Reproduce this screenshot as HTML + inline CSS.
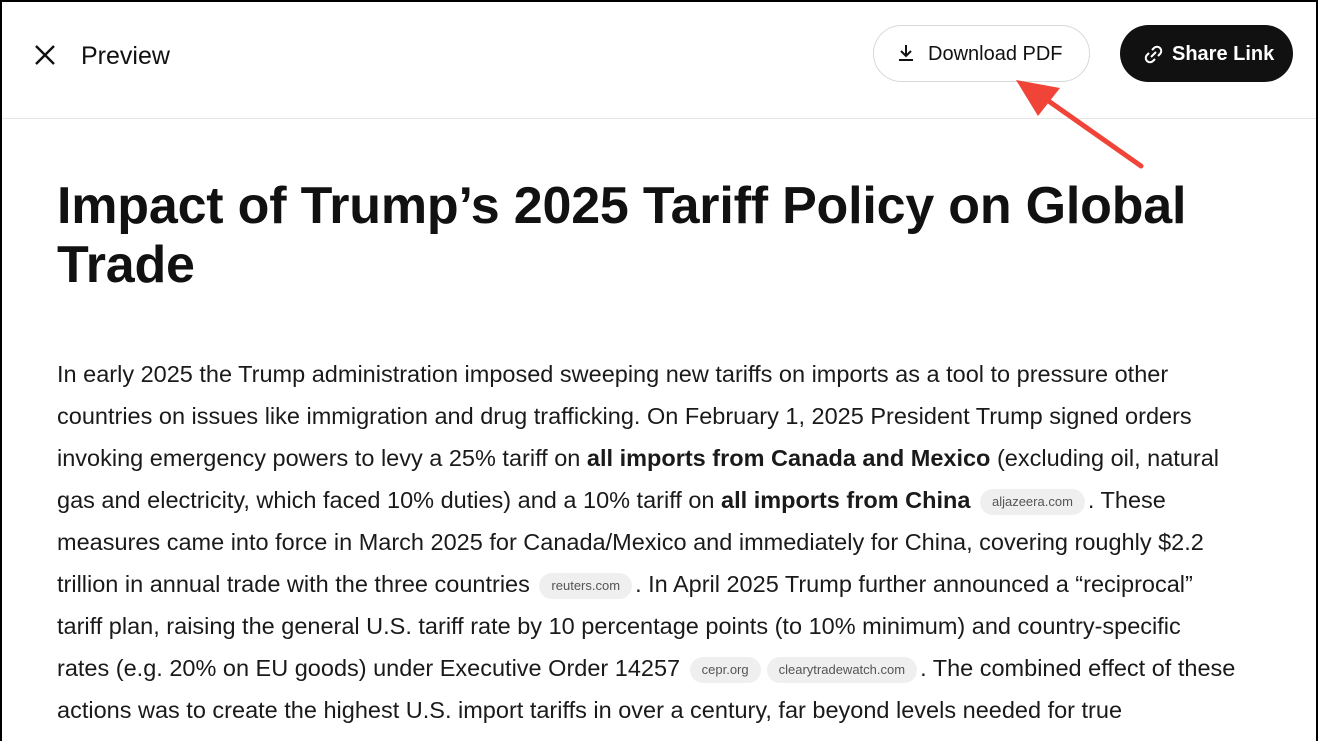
<!DOCTYPE html>
<html><head><meta charset="utf-8"><style>
*{margin:0;padding:0;box-sizing:border-box}
body{width:1318px;height:741px;overflow:hidden;background:#fff;font-family:"Liberation Sans",sans-serif;color:#111;position:relative}
.frame{position:absolute;left:0;top:0;width:1318px;height:741px;border:2px solid #000;border-bottom:none}
.hdr{position:absolute;left:2px;right:2px;top:118px;height:1px;background:#e5e5e5}
.t{position:absolute;left:57px;white-space:nowrap;font-size:23.5px;line-height:42px;color:#1a1a1a}
.h{position:absolute;left:57px;white-space:nowrap;font-size:52px;font-weight:bold;line-height:60px;letter-spacing:-0.2px}
.c{display:inline-block;background:#efefef;color:#555;font-size:13px;line-height:26px;height:26px;padding:0 12px;border-radius:13px;vertical-align:2px;margin:0 3px}
b{font-weight:bold}
</style></head><body>
<div class="frame"></div>
<svg style="position:absolute;left:34px;top:44px" width="22" height="22"><path d="M2 2L20 20M20 2L2 20" stroke="#111" stroke-width="2.4"/></svg>
<div style="position:absolute;left:81px;top:41px;font-size:25px;line-height:30px;color:#111">Preview</div>
<div style="position:absolute;left:873px;top:25px;width:217px;height:57px;border:1px solid #d8d8d8;border-radius:29px;font-size:20px;line-height:57px;padding-left:54px;color:#111">Download PDF</div>
<svg style="position:absolute;left:897px;top:44px" width="18" height="18"><path d="M9 1V12M4 7L9 12L14 7M2 16H16" stroke="#111" stroke-width="2" fill="none"/></svg>
<div style="position:absolute;left:1120px;top:25px;width:173px;height:57px;background:#111;border-radius:29px;font-size:20px;font-weight:bold;line-height:59px;padding-left:52px;color:#fff">Share Link</div>
<svg style="position:absolute;left:1143px;top:44px" width="21" height="21"><g stroke="#fff" stroke-width="2" fill="none"><path d="M9 6l2-2a4 4 0 0 1 6 6l-2 2M12 15l-2 2a4 4 0 0 1-6-6l2-2M8 13l5-5"/></g></svg>
<div class="hdr"></div>
<svg style="position:absolute;left:0;top:0" width="1318" height="741"><line x1="1141" y1="166" x2="1040" y2="95" stroke="#f04438" stroke-width="5" stroke-linecap="round"/><polygon points="1016,80 1060,88 1038,116" fill="#f04438"/></svg>
<div class="h" style="top:176px">Impact of Trump’s 2025 Tariff Policy on Global</div>
<div class="h" style="top:235px">Trade</div>
<div class="t" style="top:353px">In early 2025 the Trump administration imposed sweeping new tariffs on imports as a tool to pressure other</div>
<div class="t" style="top:395px">countries on issues like immigration and drug trafficking. On February 1, 2025 President Trump signed orders</div>
<div class="t" style="top:437px">invoking emergency powers to levy a 25% tariff on <b>all imports from Canada and Mexico</b> (excluding oil, natural</div>
<div class="t" style="top:479px">gas and electricity, which faced 10% duties) and a 10% tariff on <b>all imports from China</b> <span class="c">aljazeera.com</span>. These</div>
<div class="t" style="top:521px">measures came into force in March 2025 for Canada/Mexico and immediately for China, covering roughly $2.2</div>
<div class="t" style="top:563px">trillion in annual trade with the three countries <span class="c">reuters.com</span>. In April 2025 Trump further announced a “reciprocal”</div>
<div class="t" style="top:605px">tariff plan, raising the general U.S. tariff rate by 10 percentage points (to 10% minimum) and country-specific</div>
<div class="t" style="top:647px">rates (e.g. 20% on EU goods) under Executive Order 14257 <span class="c">cepr.org</span><span class="c">clearytradewatch.com</span>. The combined effect of these</div>
<div class="t" style="top:689px">actions was to create the highest U.S. import tariffs in over a century, far beyond levels needed for true</div>
</body></html>
